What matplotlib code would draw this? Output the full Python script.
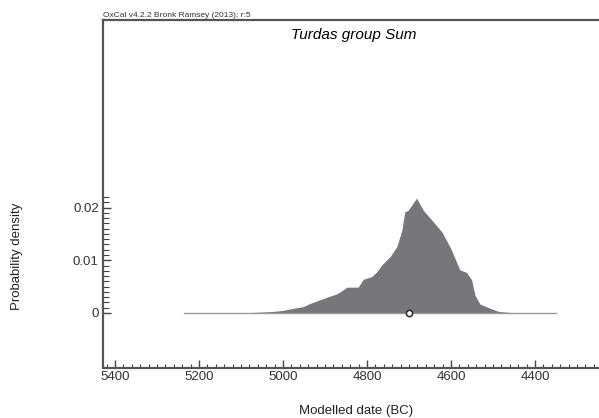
import numpy as np
import matplotlib.pyplot as plt
from matplotlib.ticker import FixedLocator, MultipleLocator

plt.rcParams['font.family'] = ['Liberation Sans', 'DejaVu Sans']

# modelled date (BC) and probability density
years = [5233, 5071, 5023, 4999, 4975, 4952, 4936, 4912, 4888, 4873, 4864,
         4848, 4821, 4809, 4789, 4777, 4765, 4745, 4729, 4717, 4710, 4702,
         4682, 4666, 4642, 4622, 4602, 4579, 4563, 4551, 4543, 4531, 4507,
         4487, 4460, 4352]
density = [0.0, 0.0001, 0.0003, 0.0005, 0.0009, 0.0012, 0.0018, 0.0025,
           0.0032, 0.0036, 0.0040, 0.0049, 0.0049, 0.0064, 0.0069, 0.0078,
           0.0091, 0.0107, 0.0126, 0.0157, 0.0192, 0.0195, 0.0218, 0.0195,
           0.0173, 0.0154, 0.0125, 0.0082, 0.0077, 0.0063, 0.0034, 0.0017,
           0.0009, 0.0003, 0.0001, 0.0]
mean_date = 4700
baseline = (5235, 4350)

fig = plt.figure(figsize=(5.99, 4.18), dpi=100)
ax = fig.add_axes([103/599, 50/418, 507/599, 348/418])

ax.fill_between(years, 0, density, color='#77777b', lw=0)
ax.plot(baseline, [0, 0], color='#999999', lw=1)
ax.plot([mean_date], [0], 'o', ms=4.5, mfc='white', mec='#333333', mew=1.2)

ax.set_xlim(5428.6, 4221.4)
ax.set_ylim(-0.01044, 0.0556)

ax.xaxis.set_major_locator(MultipleLocator(200))
ax.xaxis.set_minor_locator(MultipleLocator(20))
ax.set_yticks([0, 0.01, 0.02])
ax.set_yticklabels(['0', '0.01', '0.02'])
ax.yaxis.set_minor_locator(FixedLocator(np.arange(0, 0.0225, 0.001)))

ax.tick_params(which='both', direction='in', color='#444444', labelsize=9.5,
               labelcolor='#333333')
ax.tick_params(axis='x', which='major', length=6, width=1, pad=2)
ax.tick_params(axis='x', which='minor', length=3, width=0.8)
ax.tick_params(axis='y', which='major', length=6, width=1, pad=3)
ax.tick_params(axis='y', which='minor', length=4, width=0.8)

for s in ax.spines.values():
    s.set_color('#555555')
    s.set_linewidth(1.6)

fig.text(354/599, 1-35/418, 'Turdas group Sum', fontsize=11, style='italic',
         ha='center', va='center')
fig.text(103/599, 1-17/418, 'OxCal v4.2.2 Bronk Ramsey (2013); r:5',
         fontsize=6, color='#333333', va='baseline')
fig.text(356/599, 1-411/418, 'Modelled date (BC)', fontsize=9.5,
         ha='center', va='center', color='#222222')
fig.text(17/599, 1-256/418, 'Probability density', fontsize=9.5, rotation=90,
         ha='center', va='center', color='#222222')

fig.savefig('out.png', dpi=100)
